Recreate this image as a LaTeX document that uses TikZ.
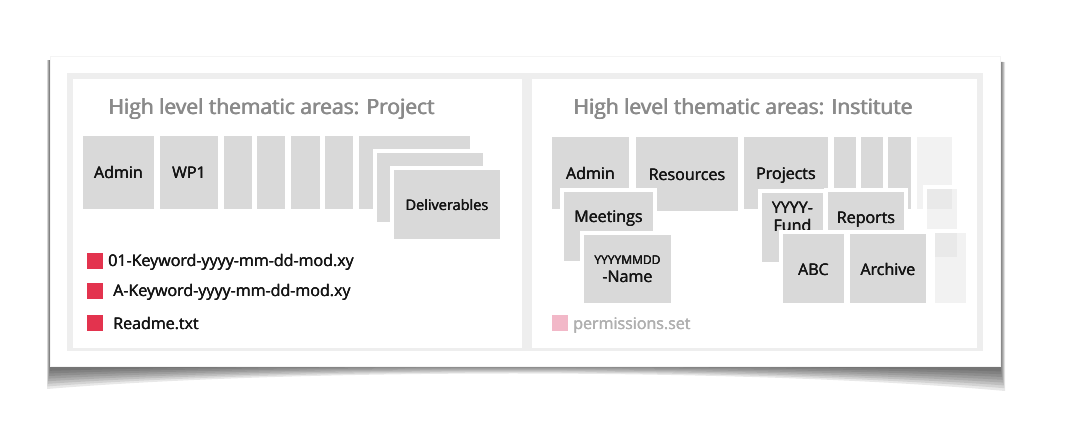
\documentclass[tikz,border=0pt]{standalone}
\usepackage{fontspec}
\setmainfont{Open Sans}
\newcommand\embo[2]{\leavevmode\rlap{#2}\kern#1pt\rlap{#2}\kern-#1pt\kern0.5\dimexpr#1pt\relax\rlap{#2}\kern0.5\dimexpr#1pt\relax\phantom{#2}}
\definecolor{boxgray}{HTML}{D9D9D9}
\definecolor{framec}{HTML}{EEEEEE}
\definecolor{fadec}{HTML}{F2F2F2}
\definecolor{fadedark}{HTML}{E9E9E9}
\definecolor{titlec}{HTML}{8A8A8A}
\definecolor{labelc}{HTML}{151515}
\definecolor{redc}{HTML}{E3334E}
\definecolor{pinkc}{HTML}{F2B8C8}
\definecolor{permc}{HTML}{B0B0B0}
\definecolor{cardedge}{HTML}{F4F4F4}
\tikzset{
  gbox/.style={draw=white, line width=4pt, inner sep=0pt, outer sep=0pt},
  lbl/.style={anchor=base, inner sep=0pt, text=labelc, font=\fontsize{16}{19}\selectfont},
  ttl/.style={anchor=base west, inner sep=0pt, text=titlec, font=\fontsize{21}{25}\selectfont},
  sq/.style={minimum size=16pt, inner sep=0pt, outer sep=0pt},
  filetext/.style={anchor=base west, inner sep=0pt, text=labelc, font=\fontsize{16}{19}\selectfont}
}
\newcommand\gb[6][boxgray]{%
  \node[gbox, fill=#1, minimum width={(#5-#3+4)*1pt}, minimum height={(#6-#4+4)*1pt}] (#2) at ({(#3+#5)/2},{(#4+#6)/2}) {};}
\begin{document}
\begin{tikzpicture}[x=1pt,y=-1pt]
\useasboundingbox (0,0) rectangle (1075,434);
\fill[white] (0,0) rectangle (1075,434);
% shadow
\foreach \k in {0,...,7}{
  \fill[black, opacity=0.09] (47+0.4*\k,60) -- (47+0.4*\k,389-2.6*\k)
    .. controls (300,368-0.6*\k) and (750,368-0.6*\k) .. (1005-0.6*\k,391-2.8*\k)
    -- (1005-0.6*\k,62) -- cycle;
}
% card
\fill[white] (50,56) rectangle (1000,366);
\draw[cardedge, line width=0.6pt] (50,56) rectangle (1000,366);
% frame and panels
\fill[framec] (67,73) rectangle (983,351);
\fill[white] (73,79) rectangle (522,348);
\fill[white] (532,79) rectangle (977,348);

% titles
\node[ttl] (t-proj) at (108,114) {\embo{0.8}{High level thematic areas: Project}};
\node[ttl] (t-inst) at (573,114) {\embo{0.8}{High level thematic areas: Institute}};

% ---- left panel
\gb{p-admin}{83}{136}{154}{209}
\gb{p-wp1}{160}{136}{218}{209}
\gb{p-a}{224}{136}{252}{209}
\gb{p-b}{257}{136}{285}{209}
\gb{p-c}{291}{136}{320}{209}
\gb{p-d}{325}{136}{353}{209}
\gb{p-s1}{359}{136}{470}{209}
\gb{p-s2}{377}{153}{483}{222}
\gb{p-del}{394}{170}{500}{239}
\node[lbl] (l-padmin) at (118.5,178) {\embo{0.4}{Admin}};
\node[lbl] (l-wp1) at (189,178) {\embo{0.4}{WP1}};
\node[lbl, font=\fontsize{14.5}{17}\selectfont] (l-del) at (447,210.5) {\embo{0.4}{Deliverables}};

\node[sq, fill=redc] (f1) at (95,260.5) {};
\node[sq, fill=redc] (f2) at (95,291) {};
\node[sq, fill=redc] (f3) at (95,323) {};
\node[filetext] (f1t) at (108,266.7) {\embo{0.35}{01-Keyword-yyyy-mm-dd-mod.xy}};
\node[filetext] (f2t) at (113,296.7) {\embo{0.35}{A-Keyword-yyyy-mm-dd-mod.xy}};
\node[filetext] (f3t) at (113,329.3) {\embo{0.35}{Readme.txt}};

% ---- right panel
\gb{i-admin}{552}{137}{629}{209}
\gb{i-res}{636}{137}{738}{211}
\gb{i-proj}{744}{137}{828}{209}
\gb{i-a}{834}{137}{856}{209}
\gb{i-b}{861}{137}{883}{209}
\gb{i-c}{888}{137}{911}{209}
\gb[fadec]{i-f1}{917}{137}{952}{209}
\node[lbl] (l-iadmin) at (590.5,179) {\embo{0.4}{Admin}};
\node[lbl] (l-res) at (687,180) {\embo{0.4}{Resources}};
\node[lbl] (l-proj) at (786,179) {\embo{0.4}{Projects}};

\gb{i-meet}{564}{192}{653}{261}
\node[lbl] (l-meet) at (608.5,222.5) {\embo{0.4}{Meetings}};
\gb{i-name}{584}{235}{671}{303}
\node[lbl, font=\fontsize{12}{14}\selectfont] (l-ymd) at (627.5,264) {\embo{0.3}{YYYYMMDD}};
\node[lbl] (l-name) at (627.5,282) {\embo{0.4}{-Name}};

\gb{i-fund}{762}{193}{823}{262}
\node[lbl] (l-fund1) at (792.5,213) {\embo{0.4}{YYYY-}};
\node[lbl] (l-fund2) at (792.5,231.5) {\embo{0.4}{Fund}};
\gb{i-rep}{828}{192}{904}{262}
\node[lbl] (l-rep) at (866,223) {\embo{0.4}{Reports}};
\gb[fadec]{i-f2}{927}{189}{957}{229}
\fill[fadedark] (927,189) rectangle (952,209);

\gb{i-abc}{783}{234}{844}{303}
\node[lbl] (l-abc) at (813.5,275) {\embo{0.4}{ABC}};
\gb{i-arch}{850}{234}{926}{303}
\node[lbl] (l-arch) at (888,275) {\embo{0.4}{Archive}};
\gb[fadec]{i-f3}{935}{233}{966}{303}
\fill[fadedark] (935,233) rectangle (957,257);

\node[sq, fill=pinkc] (perm) at (560,323) {};
\node[filetext, text=permc] (permt) at (573,329) {\embo{0.35}{permissions.set}};
\end{tikzpicture}
\end{document}
